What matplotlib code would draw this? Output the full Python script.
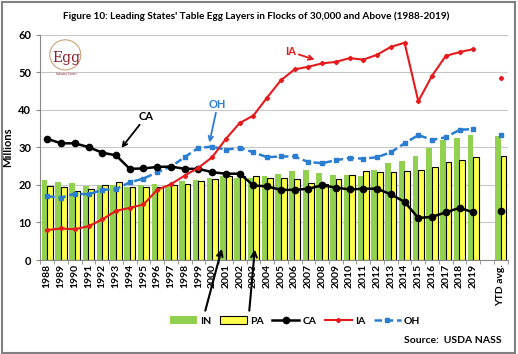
import numpy as np
import matplotlib.pyplot as plt
from matplotlib.patches import Rectangle, Ellipse

plt.rcParams['font.family'] = ['Lato', 'DejaVu Sans']

years = [str(y) for y in range(1988, 2020)]
ytd_label = 'YTD avg.'

IN = [21.2, 20.9, 20.4, 19.7, 19.9, 19.9, 19.5, 19.9, 20.2, 19.6, 21.0, 21.2,
      21.9, 22.3, 21.8, 21.9, 22.5, 22.9, 23.6, 23.9, 23.2, 22.7, 22.7, 22.4,
      24.1, 25.8, 26.5, 27.6, 29.8, 32.1, 32.6, 33.4]
PA = [19.7, 19.4, 18.5, 18.8, 19.9, 20.8, 19.4, 19.4, 19.4, 20.0, 20.3, 21.0,
      21.7, 22.4, 22.3, 22.4, 21.9, 21.8, 21.7, 20.6, 20.3, 21.7, 22.7, 23.8,
      23.5, 23.5, 23.7, 23.9, 24.9, 26.0, 26.7, 27.4]
CA = [32.3, 31.1, 31.1, 30.1, 28.6, 27.9, 24.3, 24.4, 24.8, 24.9, 24.3, 24.3,
      23.4, 23.0, 23.0, 19.9, 19.6, 18.7, 18.7, 19.0, 19.9, 19.3, 18.8, 19.0,
      19.0, 17.5, 15.5, 11.2, 11.5, 12.7, 13.9, 12.7]
IA = [8.0, 8.4, 8.2, 9.0, 10.8, 13.1, 13.9, 14.8, 18.7, 20.2, 22.5, 24.6,
      27.4, 32.3, 36.5, 38.5, 43.3, 47.9, 50.8, 51.5, 52.4, 52.8, 53.8, 53.4,
      54.7, 56.8, 57.9, 42.3, 49.1, 54.4, 55.4, 56.2]
OH = [17.0, 16.6, 17.7, 17.5, 18.7, 18.9, 20.7, 21.7, 23.4, 24.9, 27.4, 29.9,
      30.2, 29.4, 29.9, 28.7, 27.4, 27.6, 27.6, 26.1, 25.8, 26.6, 27.2, 27.0,
      27.4, 28.7, 31.1, 33.3, 32.0, 32.7, 34.7, 34.9]
ytd = {'IN': 33.1, 'PA': 27.6, 'CA': 13.1, 'IA': 48.5, 'OH': 33.3}

green = '#92D050'
yellow = '#FFFF4D'
red = '#E41A1C'
blue = '#2A7DD1'

fig = plt.figure(figsize=(5.18, 3.54), dpi=100)
ax = fig.add_axes([0.078, 0.2655, 0.902, 0.636])

n = len(years)
x = np.arange(n)
x_ytd = n + 1
bw = 0.42

h_in = ax.bar(x - 0.2, IN, bw, color=green, zorder=2, label='IN')
h_pa = ax.bar(x + 0.2, PA, bw, color=yellow, edgecolor='black', linewidth=0.8, zorder=2, label='PA')
ax.bar(x_ytd - 0.2, ytd['IN'], bw, color=green, zorder=2)
ax.bar(x_ytd + 0.2, ytd['PA'], bw, color=yellow, edgecolor='black', linewidth=0.8, zorder=2)

h_ca, = ax.plot(x, CA, color='black', lw=1.8, marker='o', ms=4.5, zorder=4, label='CA')
h_ia, = ax.plot(x, IA, color=red, lw=1.5, marker='D', ms=2.2, zorder=5, label='IA')
h_oh, = ax.plot(x, OH, color=blue, lw=1.8, ls=(0, (3, 1.5)), marker='s', ms=2.5, zorder=3, label='OH')
ax.plot(x_ytd, ytd['CA'], 'o', color='black', ms=4.5, zorder=4)
ax.plot(x_ytd, ytd['IA'], 'D', color=red, ms=2.2, zorder=5)
ax.plot(x_ytd, ytd['OH'], 's', color=blue, ms=2.5, zorder=3)

ax.set_xlim(-0.5, n + 1.5)
ax.set_ylim(0, 60)
ax.set_yticks(range(0, 61, 10))
ax.yaxis.grid(True, color='#C8C8C8', lw=0.8, zorder=0)
ax.set_axisbelow(True)

ax.set_xticks(list(x) + [x_ytd])
ax.set_xticklabels(years + [ytd_label], rotation=90, fontsize=7.5, fontweight='bold')
ax.set_xticks(np.arange(-0.5, n + 2, 1), minor=True)
ax.tick_params(axis='x', which='major', length=0, pad=3)
ax.tick_params(axis='x', which='minor', length=3, color='#888888')
ax.tick_params(axis='y', length=3, color='#888888', labelsize=8)
for t in ax.get_yticklabels():
    t.set_fontweight('bold')
ax.set_ylabel('Millions', fontsize=8, fontweight='bold', labelpad=4)

for s in ['top', 'right']:
    ax.spines[s].set_visible(False)
ax.spines['left'].set_color('#888888')
ax.spines['bottom'].set_color('#888888')

arrow = dict(arrowstyle='->', color='black', lw=1.3, shrinkA=0, shrinkB=0)
ax.annotate('CA', xy=(5.4, 29.9), xytext=(6.65, 36.8), fontsize=8, fontweight='bold',
            arrowprops=arrow, ha='left', va='bottom')
ax.annotate('OH', xy=(11.8, 31.3), xytext=(12.4, 40.0), fontsize=8, fontweight='bold',
            color=blue, arrowprops=dict(arrow, color=blue), ha='center', va='bottom')
ax.annotate('IA', xy=(19.45, 53.4), xytext=(18.1, 55.5), fontsize=8, fontweight='bold',
            color=red, arrowprops=dict(arrow, color=red), ha='right', va='center')
ax.annotate('', xy=(12.7, 3.0), xytext=(11.5, -13.5), annotation_clip=False,
            arrowprops=dict(arrow, lw=1.5))
ax.annotate('', xy=(15.1, 2.8), xytext=(14.7, -13.5), annotation_clip=False,
            arrowprops=dict(arrow, lw=1.5))

fig.text(0.495, 0.955, "Figure 10: Leading States' Table Egg Layers in Flocks of 30,000 and Above (1988-2019)",
         ha='center', va='center', fontsize=7.2, fontweight='bold')

# logo
fig.patches.append(Ellipse((0.126, 0.845), 0.06, 0.085, transform=fig.transFigure,
                           fill=False, ec='#C9A27A', lw=0.8))
fig.text(0.128, 0.837, 'Egg', ha='center', va='center', fontsize=10,
         family='DejaVu Serif', color='#8B1E2D')
fig.text(0.128, 0.792, 'Industry Center', ha='center', va='center', fontsize=2.2, color='#8B1E2D')

fig.legend([h_in, h_pa, h_ca, h_ia, h_oh], ['IN', 'PA', 'CA', 'IA', 'OH'],
           loc='center', bbox_to_anchor=(0.57, 0.093), ncol=5, frameon=False,
           prop={'weight': 'bold', 'size': 7.5}, handlelength=2.6,
           handletextpad=0.3, columnspacing=0.8)

fig.text(0.968, 0.025, 'Source:  USDA NASS', ha='right', va='bottom', fontsize=7.5, fontweight='bold')

fig.patches.append(Rectangle((0.003, 0.004), 0.992, 0.99, transform=fig.transFigure,
                             fill=False, ec='#808080', lw=1.5))

fig.savefig('out.png', dpi=100)
